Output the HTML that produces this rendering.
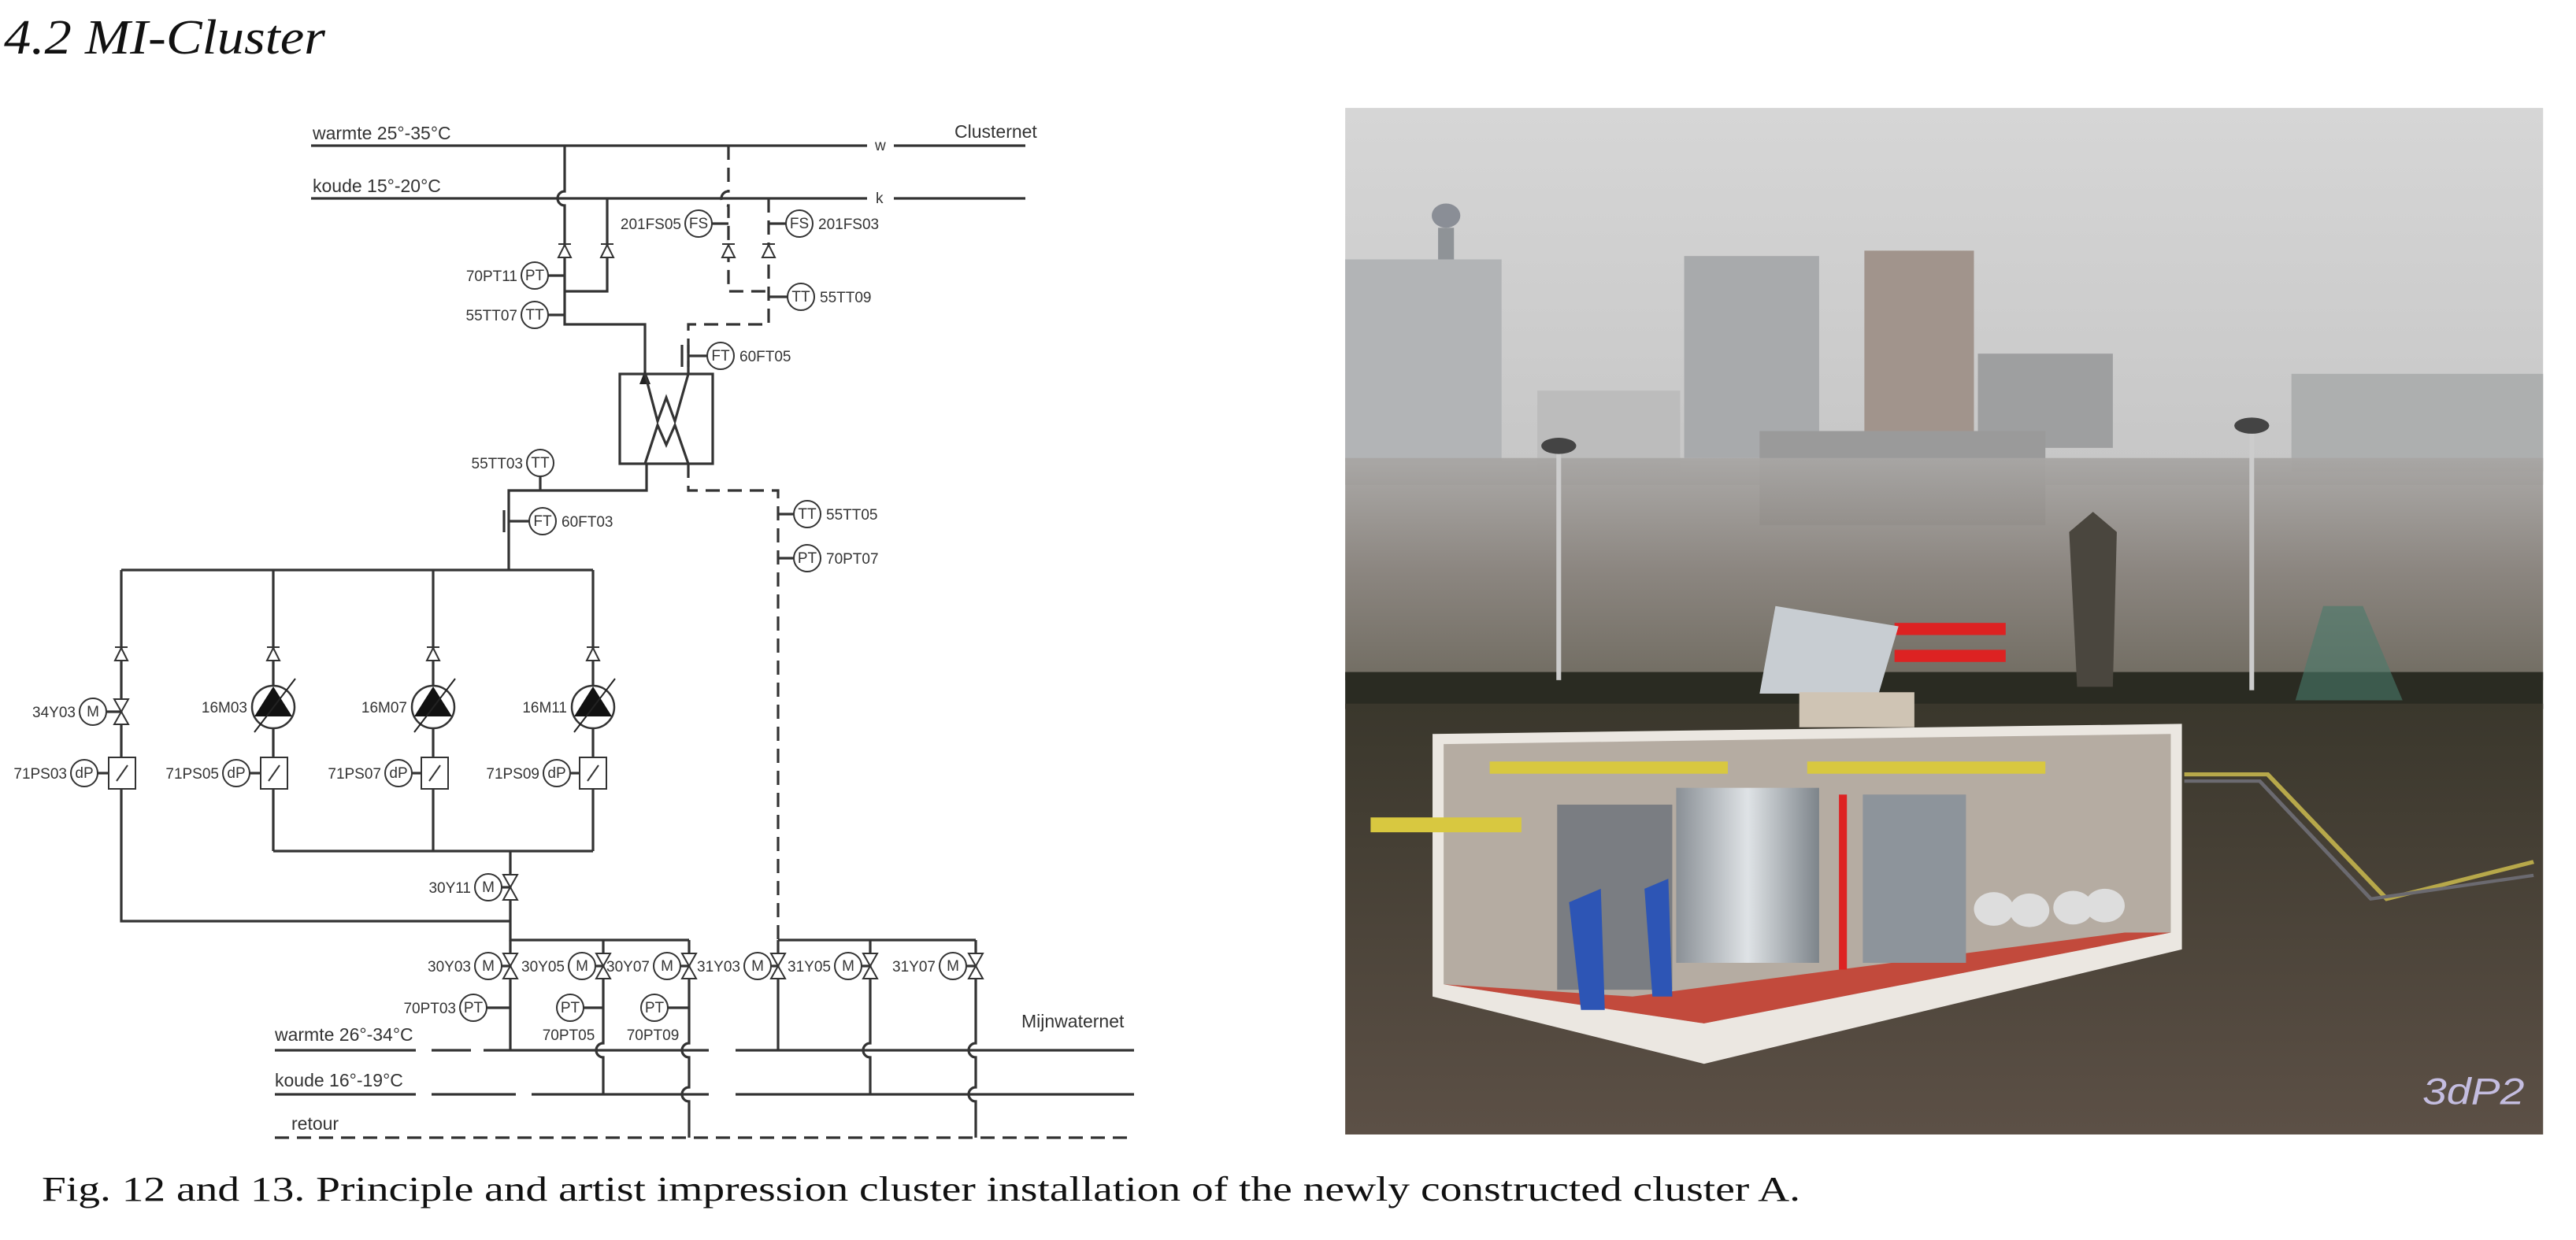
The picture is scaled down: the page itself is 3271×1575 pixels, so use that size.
<!DOCTYPE html>
<html><head><meta charset="utf-8"><style>
html,body{margin:0;padding:0;background:#fff;}
svg{display:block;}
.ln{stroke:#333;stroke-width:3.2;fill:none;}
.dl{stroke:#333;stroke-width:3.2;fill:none;stroke-dasharray:18 10;}
.lb{font-family:"Liberation Sans",sans-serif;font-size:19px;fill:#333;}
.lb2{font-family:"Liberation Sans",sans-serif;font-size:23px;fill:#333;}
</style></head><body>
<svg id="s" width="3271" height="1575" viewBox="0 0 3271 1575" xmlns="http://www.w3.org/2000/svg">
<rect width="3271" height="1575" fill="#fff"/>
<text x="5" y="68" font-family="Liberation Serif,serif" font-style="italic" font-size="62" fill="#111" textLength="408" lengthAdjust="spacingAndGlyphs">4.2 MI-Cluster</text>

<g id="schem">
<text class="lb2" x="397" y="177">warmte 25°-35°C</text>
<text class="lb2" x="1212" y="175">Clusternet</text>
<text class="lb2" x="397" y="244">koude 15°-20°C</text>
<path class="ln" d="M395 185H1101M1135 185H1302M395 252H1101M1135 252H1302"/>
<text class="lb" x="1111" y="191" font-size="14">w</text>
<text class="lb" x="1112" y="258" font-size="14">k</text>
<path class="ln" d="M717 185V243A9 9 0 0 0 717 261V412H819V478M771 252V370H717"/>
<path class="dl" d="M925 185V243A9 9 0 0 0 925 261V370H976M976 252V412H874V475"/>
<path d="M819 470L812 488H826Z" fill="#222"/>
<rect x="787" y="475" width="118" height="114" class="ln" stroke-width="2.5"/>
<path class="ln" stroke-width="2" d="M819 475L835 535L846 505L857 535L874 475M819 589L835 540L846 565L857 540L874 589"/>
<path class="ln" d="M821 589V623H646V724"/>
<path class="dl" d="M874 589V623H988V1194"/>
<path class="ln" d="M154 724H753M154 724V1170H648M347 724V1081M550 724V1081M753 724V1081M347 1081H753M648 1081V1194H875M988 1194H1239"/>
<path class="ln" d="M648 1194V1334M766 1194V1325A9 9 0 0 0 766 1343V1390M875 1194V1325A9 9 0 0 0 875 1343V1381A9 9 0 0 0 875 1399V1445M988 1194V1334M1105 1194V1325A9 9 0 0 0 1105 1343V1390M1239 1194V1325A9 9 0 0 0 1239 1343V1381A9 9 0 0 0 1239 1399V1445"/>
<path class="ln" d="M349 1334H528M548 1334H598M614 1334H900M934 1334H1440M349 1390H528M548 1390H655M675 1390H900M934 1390H1440"/>
<path class="dl" d="M349 1445H1440"/>
<text class="lb2" x="349" y="1322">warmte 26°-34°C</text>
<text class="lb2" x="349" y="1380">koude 16°-19°C</text>
<text class="lb2" x="370" y="1435">retour</text>
<text class="lb2" x="1297" y="1305">Mijnwaternet</text>
<path class="ln" d="M866 438V466M874 438V466M640 648V676"/>
</g>
<g id="photo" transform="translate(1690,120) scale(1.008,0.855)">
<defs>
<linearGradient id="sky" x1="0" y1="0" x2="0" y2="1"><stop offset="0" stop-color="#d6d6d6"/><stop offset="1" stop-color="#c6c6c6"/></linearGradient>
<linearGradient id="fog" x1="0" y1="0" x2="0" y2="1"><stop offset="0" stop-color="#a8a6a4"/><stop offset=".5" stop-color="#86807a"/><stop offset="1" stop-color="#6a655a"/></linearGradient>
<linearGradient id="gr" x1="0" y1="0" x2="0" y2="1"><stop offset="0" stop-color="#3a372c"/><stop offset="1" stop-color="#5c5046"/></linearGradient>
<linearGradient id="tk" x1="0" y1="0" x2="1" y2="0"><stop offset="0" stop-color="#8a9096"/><stop offset=".5" stop-color="#dfe3e6"/><stop offset="1" stop-color="#7d848a"/></linearGradient>
</defs>
<rect x="18" y="20" width="1509" height="560" fill="url(#sky)"/>
<circle cx="145" cy="180" r="18" fill="#8a8e96"/><rect x="135" y="198" width="20" height="50" fill="#8f9397"/>
<rect x="18" y="245" width="197" height="300" fill="#b2b4b6"/>
<rect x="260" y="440" width="180" height="120" fill="#bcbcbc"/>
<rect x="445" y="240" width="170" height="300" fill="#a8aaac"/>
<rect x="672" y="232" width="138" height="300" fill="#a1948c"/>
<rect x="815" y="385" width="170" height="140" fill="#9e9fa0"/>
<rect x="1210" y="415" width="317" height="145" fill="#adafaf"/>
<rect x="540" y="500" width="360" height="140" fill="#9a9a9a"/>
<rect x="18" y="540" width="1509" height="330" fill="url(#fog)" opacity=".95"/>
<rect x="18" y="858" width="1509" height="55" fill="#2a2b22"/>
<rect x="18" y="905" width="1509" height="640" fill="url(#gr)"/>
<rect x="284" y="525" width="6" height="345" fill="#ccc"/><ellipse cx="287" cy="522" rx="22" ry="12" fill="#444"/>
<rect x="1157" y="495" width="6" height="390" fill="#ccc"/><ellipse cx="1160" cy="492" rx="22" ry="12" fill="#444"/>
<path d="M940 880L930 650L960 620L990 650L985 880Z" fill="#4a463e"/>
<rect x="710" y="785" width="140" height="18" fill="#d22"/><rect x="710" y="825" width="140" height="18" fill="#d22"/>
<path d="M560 760L715 790L690 890L540 890Z" fill="#c8cdd2"/>
<rect x="590" y="888" width="145" height="52" fill="#cfc4b4"/>
<path d="M1075 1010L1180 1010L1330 1195L1515 1140" stroke="#b7a84a" stroke-width="6" fill="none"/>
<path d="M1075 1020L1170 1020L1310 1195L1515 1160" stroke="#6b6a70" stroke-width="5" fill="none"/>
<path d="M128 950L1072 935L1072 1270L470 1440L128 1340Z" fill="#ebe7e1"/>
<path d="M142 965L1058 950L1058 1245L470 1380L142 1322Z" fill="#b5aca2"/>
<path d="M142 1322L380 1340L1000 1245L1058 1245L470 1380Z" fill="#c24a3c"/>
<path d="M50 1085H240" stroke="#d8c840" stroke-width="22"/>
<path d="M200 1000H500M600 1000H900" stroke="#d8c840" stroke-width="18"/>
<rect x="285" y="1055" width="145" height="275" fill="#7a7d82"/>
<rect x="435" y="1030" width="180" height="260" fill="url(#tk)"/>
<rect x="670" y="1040" width="130" height="250" fill="#8d949b"/>
<path d="M645 1040V1300" stroke="#d22" stroke-width="10"/>
<circle cx="835" cy="1210" r="25" fill="#ddd"/><circle cx="880" cy="1212" r="25" fill="#ddd"/><circle cx="935" cy="1208" r="25" fill="#ddd"/><circle cx="975" cy="1205" r="25" fill="#ddd"/>
<path d="M300 1200L340 1180L345 1360L315 1360Z" fill="#2d55b5"/><path d="M395 1180L425 1165L430 1340L405 1340Z" fill="#2d55b5"/>
<path d="M1215 900L1250 760L1300 760L1350 900Z" fill="#4a7a6a" opacity=".6"/>
<text x="1375" y="1500" font-family="Liberation Sans,sans-serif" font-style="italic" font-size="55" fill="#c4bde0">3dP2</text>
</g>
<text x="53" y="1525" font-family="Liberation Serif,serif" font-size="44" fill="#111" textLength="2233" lengthAdjust="spacingAndGlyphs">Fig. 12 and 13. Principle and artist impression cluster installation of the newly constructed cluster A.</text>
</svg>
<script>
const NS='http://www.w3.org/2000/svg';
const g=document.getElementById('schem');
function mk(t,a){const e=document.createElementNS(NS,t);for(const k in a)e.setAttribute(k,a[k]);g.appendChild(e);return e;}
const instruments=[
[887,284,'FS','201FS05','L',925],[1015,284,'FS','201FS03','R',976],
[679,350,'PT','70PT11','L',717],[679,400,'TT','55TT07','L',717],[1017,377,'TT','55TT09','R',976],
[915,452,'FT','60FT05','R',874],[686,588,'TT','55TT03','L',null],[689,662,'FT','60FT03','R',646],
[1025,653,'TT','55TT05','R',988],[1025,709,'PT','70PT07','R',988],
[118,904,'M','34Y03','L',154],
[107,982,'dP','71PS03','L',138],[300,982,'dP','71PS05','L',331],[506,982,'dP','71PS07','L',535],[707,982,'dP','71PS09','L',736],
[620,1127,'M','30Y11','L',648],
[620,1227,'M','30Y03','L',648],[739,1227,'M','30Y05','L',766],[847,1227,'M','30Y07','L',875],
[962,1227,'M','31Y03','L',988],[1077,1227,'M','31Y05','L',1105],[1210,1227,'M','31Y07','L',1239],
[601,1280,'PT','70PT03','L',648],[724,1280,'PT','70PT05','B',766],[831,1280,'PT','70PT09','B',875]];
for(const it of instruments){
 const [x,y,s,l,side,lx]=it;
 if(lx!==null){const ln=mk('line',{x1:x+(lx>x?17:-17),y1:y,x2:lx,y2:y,class:'ln','stroke-width':2});
 
 }
 else{const ln=mk('line',{x1:x,y1:y+17,x2:x,y2:623,class:'ln','stroke-width':2});
 
 }
 const c=mk('circle',{cx:x,cy:y,r:17,fill:'#fff',stroke:'#333','stroke-width':2});
 
 
 const t=mk('text',{x:x,y:y+6,class:'lb','text-anchor':'middle','font-size':15});t.textContent=s;
 
 
 let tx=x-22,ty=y+7,an='end';
 if(side==='R'){tx=x+24;an='start';}
 if(side==='B'){tx=x-2;ty=y+41;an='middle';}
 const tl=mk('text',{x:tx,y:ty,class:'lb','text-anchor':an});tl.textContent=l;
 
 
}
const valves=[[154,904],[648,1127],[648,1227],[766,1227],[875,1227],[988,1227],[1105,1227],[1239,1227]];
for(const v of valves){
 const p=mk('path',{d:`M${v[0]-9} ${v[1]-16}H${v[0]+9}L${v[0]-9} ${v[1]+16}H${v[0]+9}Z`,fill:'#fff',stroke:'#333','stroke-width':2});
 
 
}
const checks=[[717,319],[771,319],[925,319],[976,319],[154,831],[347,831],[550,831],[753,831]];
for(const v of checks){
 const p=mk('path',{d:`M${v[0]-8} ${v[1]+8}L${v[0]} ${v[1]-8}L${v[0]+8} ${v[1]+8}ZM${v[0]-8} ${v[1]-9}H${v[0]+8}`,fill:'#fff',stroke:'#333','stroke-width':2});
 
 
}
const pumps=[[347,898,'16M03'],[550,898,'16M07'],[753,898,'16M11']];
for(const p of pumps){
 const [x,y,l]=p;
 const c=mk('circle',{cx:x,cy:y,r:27,fill:'#fff',stroke:'#333','stroke-width':2.5});
 
 
 const tr=mk('path',{d:`M${x-24} ${y+12}L${x} ${y-26}L${x+24} ${y+12}Z`,fill:'#111'});
 
 
 const ar=mk('path',{d:`M${x-24} ${y+32}L${x+28} ${y-36}`,stroke:'#222','stroke-width':2});
 
 
 const t=mk('text',{x:x-33,y:y+7,class:'lb','text-anchor':'end'});t.textContent=l;
 
 
}
const switches=[138,331,535,736];
for(const x of switches){
 const r=mk('rect',{x:x,y:962,width:34,height:40,fill:'#fff',stroke:'#333','stroke-width':2});
 
 
 const d=mk('path',{d:`M${x+10} ${992}L${x+24} ${972}`,stroke:'#333','stroke-width':2});
 
 
}
</script>
</body></html>
